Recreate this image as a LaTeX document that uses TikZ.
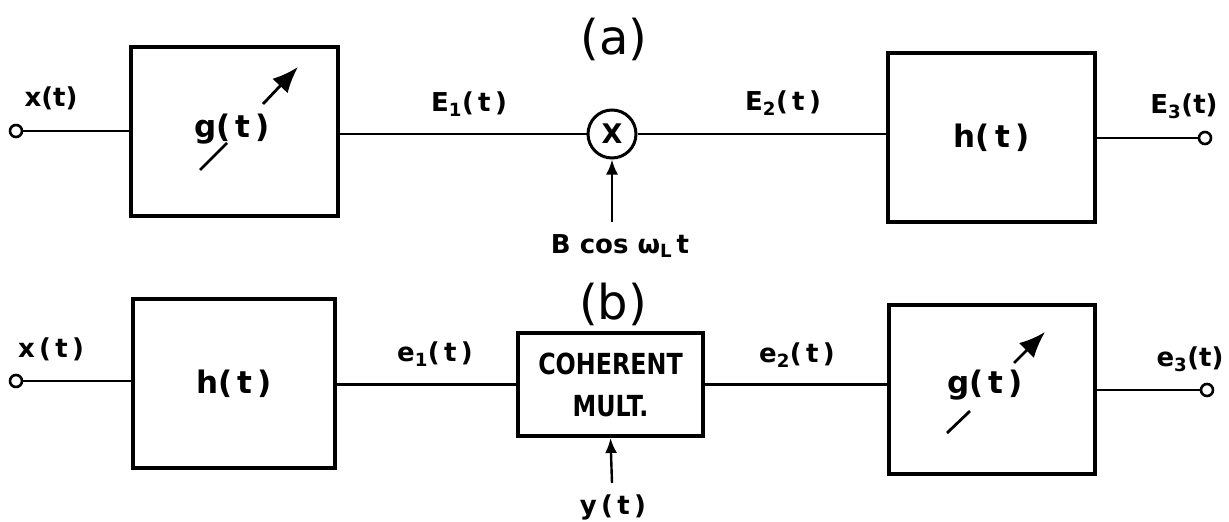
\documentclass[tikz,border=0pt]{standalone}
\usepackage{fontspec}
\setmainfont{DejaVu Sans}
\newfontfamily\condfont[FakeStretch=0.82]{DejaVu Sans}
\usetikzlibrary{arrows.meta}
\begin{document}
\begin{tikzpicture}[x=1pt,y=-1pt,
  blk/.style={draw,line width=4pt,inner sep=0pt,font=\fontsize{31}{34}\selectfont\bfseries},
  conn/.style={line width=2.4pt},
  term/.style={circle,draw,line width=2.6pt,minimum size=12pt,inner sep=0pt},
  lbl/.style={font=\fontsize{26}{30}\selectfont\bfseries,inner sep=0pt},
  ttl/.style={font=\fontsize{48}{52}\selectfont,inner sep=0pt},
  varr/.style={line width=2.8pt},
  inarr/.style={line width=2.4pt,-{Latex[length=15pt,width=12pt]}}]
\useasboundingbox (0,0) rectangle (1229,522);
% ---------- (a) ----------
\node[ttl] (ta) at (614,39) {(a)};
\node[term] (xa) at (16,131) {};
\node[blk,minimum width=207pt,minimum height=169pt] (ga) at (234.5,131.5) {};
\node[font=\fontsize{31}{34}\selectfont\bfseries,inner sep=0pt] (gat) at (232,129) {g(\,t\,)};
\node[circle,draw,line width=3pt,minimum size=48pt,inner sep=0pt,font=\fontsize{27}{30}\selectfont\bfseries] (mul) at (612,134) {X};
\node[blk,minimum width=207pt,minimum height=169pt] (ha) at (991.5,137.5) {h(\,t\,)};
\node[term] (ea) at (1205,138) {};
\draw[conn] (xa) -- (xa -| ga.west);
\draw[conn] (ga.east |- mul) -- (mul);
\draw[conn] (mul) -- (mul -| ha.west);
\draw[conn] (ha.east |- ea) -- (ea);
\coordinate (ba) at (612,222);
\draw[inarr] (ba) -- (mul.south);
\node[lbl] (lxa) at (51,98) {x(t)};
\node[lbl] (le1) at (469,104) {E\textsubscript{1}(\,t\,)};
\node[lbl] (le2) at (783,103) {E\textsubscript{2}(\,t\,)};
\node[lbl] (le3) at (1184,106) {E\textsubscript{3}(t)};
\node[lbl] (lb) at (620,246) {B cos ω\textsubscript{L}\,t};
% variable arrow (a)
\coordinate (va1) at (200,170);
\coordinate (va2) at (227,143);
\coordinate (va3) at (263,104);
\coordinate (va4) at (298,67);
\draw[varr] (va1) -- (va2);
\draw[varr,-{Latex[length=26pt,width=21pt]}] (va3) -- (va4);
% ---------- (b) ----------
\node[ttl] (tb) at (613,304) {(b)};
\node[term] (xb) at (16,381) {};
\node[blk,minimum width=202pt,minimum height=169pt] (hb) at (234,383.5) {h(\,t\,)};
\node[blk,minimum width=185pt,minimum height=103pt,align=center,font=\fontsize{29}{42}\selectfont\condfont\bfseries] (cm) at (610.5,384.5) {COHERENT\\MULT.};
\node[blk,minimum width=206pt,minimum height=169pt] (gb) at (992,389.5) {};
\node[font=\fontsize{31}{34}\selectfont\bfseries,inner sep=0pt] (gbt) at (985,385) {g(\,t\,)};
\node[term] (eb) at (1207,390) {};
\draw[conn] (xb) -- (xb -| hb.west);
\draw[conn] (hb.east |- cm) -- (cm.west);
\draw[conn] (cm.east) -- (cm.east -| gb.west);
\draw[conn] (gb.east |- eb) -- (eb);
\coordinate (yb) at (612,483);
\draw[inarr] (yb) -- (cm.south);
\node[lbl] (lxb) at (51,349) {x\,(\,t\,)};
\node[lbl] (lf1) at (435,354) {e\textsubscript{1}(\,t\,)};
\node[lbl] (lf2) at (797,355) {e\textsubscript{2}(\,t\,)};
\node[lbl] (lf3) at (1190,359) {e\textsubscript{3}(t)};
\node[lbl] (ly) at (613,507) {y\,(\,t\,)};
% variable arrow (b)
\coordinate (vb1) at (947,433);
\coordinate (vb2) at (970,411);
\coordinate (vb3) at (1014,363);
\coordinate (vb4) at (1045,332);
\draw[varr] (vb1) -- (vb2);
\draw[varr,-{Latex[length=26pt,width=21pt]}] (vb3) -- (vb4);
\end{tikzpicture}
\end{document}
